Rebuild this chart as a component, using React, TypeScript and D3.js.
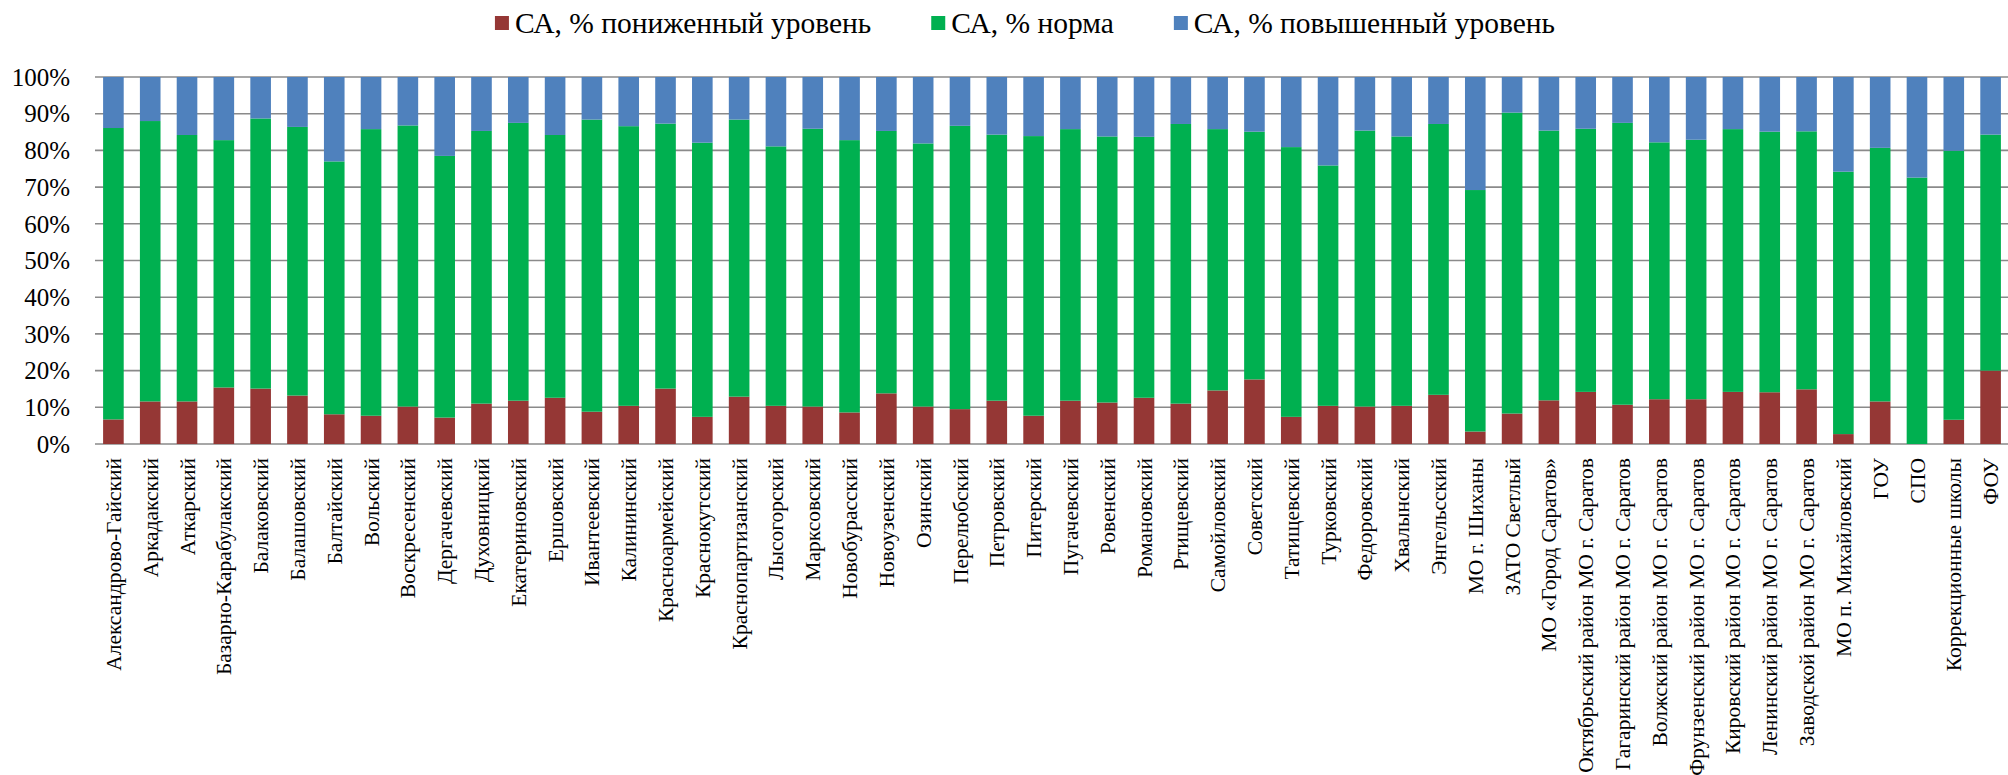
import * as d3 from 'd3';
import React, { useEffect, useRef } from 'react';

const categories = [
  'Александрово-Гайский', 'Аркадакский', 'Аткарский', 'Базарно-Карабулакский', 'Балаковский',
  'Балашовский', 'Балтайский', 'Вольский', 'Воскресенский', 'Дергачевский', 'Духовницкий',
  'Екатериновский', 'Ершовский', 'Ивантеевский', 'Калининский', 'Красноармейский', 'Краснокутский',
  'Краснопартизанский', 'Лысогорский', 'Марксовский', 'Новобурасский', 'Новоузенский', 'Озинский',
  'Перелюбский', 'Петровский', 'Питерский', 'Пугачевский', 'Ровенский', 'Романовский', 'Ртищевский',
  'Самойловский', 'Советский', 'Татищевский', 'Турковский', 'Федоровский', 'Хвалынский', 'Энгельсский',
  'МО г. Шиханы', 'ЗАТО Светлый', 'МО «Город Саратов»', 'Октябрьский район МО г. Саратов',
  'Гагаринский район МО г. Саратов', 'Волжский район МО г. Саратов', 'Фрунзенский район МО г. Саратов',
  'Кировский район МО г. Саратов', 'Ленинский район МО г. Саратов', 'Заводской район МО г. Саратов',
  'МО п. Михайловский', 'ГОУ', 'СПО', 'Коррекционные школы', 'ФОУ',
];

// CA, % reduced level
const lowLevel = [
  6.7, 11.6, 11.6, 15.4, 15.1, 13.2, 8.1, 7.7, 10.2, 7.2, 11.0, 11.8, 12.6, 8.8, 10.4, 15.1, 7.4,
  12.9, 10.4, 10.2, 8.6, 13.8, 10.2, 9.5, 11.8, 7.7, 11.8, 11.3, 12.6, 11.0, 14.6, 17.6, 7.4, 10.4,
  10.2, 10.4, 13.4, 3.4, 8.3, 11.9, 14.2, 10.7, 12.2, 12.2, 14.2, 14.1, 14.9, 2.7, 11.6, 0, 6.6, 20.0,
];

// CA, % norm
const normLevel = [
  79.4, 76.4, 72.6, 67.4, 73.6, 73.2, 68.9, 78.1, 76.6, 71.3, 74.3, 75.7, 71.6, 79.6, 76.2, 72.2, 74.7,
  75.5, 70.7, 75.7, 74.2, 71.5, 71.7, 77.2, 72.5, 76.2, 74.0, 72.5, 71.1, 76.2, 71.2, 67.5, 73.5, 65.5,
  75.2, 73.4, 73.8, 65.8, 82.0, 73.5, 71.7, 76.8, 70.0, 70.7, 71.6, 71.0, 70.3, 71.5, 69.1, 72.6, 73.3, 64.3,
];

// CA, % raised level
const highLevel = [
  13.9, 12.0, 15.8, 17.2, 11.3, 13.6, 23.0, 14.2, 13.2, 21.5, 14.7, 12.5, 15.8, 11.6, 13.4, 12.7, 17.9,
  11.6, 18.9, 14.1, 17.2, 14.7, 18.1, 13.3, 15.7, 16.1, 14.2, 16.2, 16.3, 12.8, 14.2, 14.9, 19.1, 24.1,
  14.6, 16.2, 12.8, 30.8, 9.7, 14.6, 14.1, 12.5, 17.8, 17.1, 14.2, 14.9, 14.8, 25.8, 19.3, 27.4, 20.1, 15.7,
];

const seriesKeys = ['low', 'norm', 'high'];
const seriesNames = ['СА, % пониженный уровень', 'СА, % норма', 'СА, % повышенный уровень'];
const seriesColors = ['#953735', '#00B050', '#4F81BD'];
const yTicks = [0, 10, 20, 30, 40, 50, 60, 70, 80, 90, 100];

const W = 2008;
const H = 775;

const App: React.FC = () => {
  const ref = useRef<SVGSVGElement>(null);

  useEffect(() => {
    const svg = d3.select(ref.current);
    svg.selectAll('*').remove();

    const rows = categories.map((name, i) => ({
      name,
      low: lowLevel[i],
      norm: normLevel[i],
      high: highLevel[i],
    }));
    const stacked = d3.stack<any>().keys(seriesKeys)(rows);

    const x = d3
      .scaleBand<string>()
      .domain(categories)
      .range([95, 2009])
      .paddingInner(0.44)
      .paddingOuter(0.22);
    const y = d3.scaleLinear().domain([0, 100]).range([444, 77]);

    // gridlines behind the bars
    svg
      .append('g')
      .selectAll('line')
      .data(yTicks)
      .join('line')
      .attr('x1', 95)
      .attr('x2', W)
      .attr('y1', d => y(d))
      .attr('y2', d => y(d))
      .attr('stroke', '#8a8a8a')
      .attr('stroke-width', 1.6);

    // stacked bars
    svg
      .append('g')
      .selectAll('g')
      .data(stacked)
      .join('g')
      .attr('fill', (_, i) => seriesColors[i])
      .selectAll('rect')
      .data(d => d)
      .join('rect')
      .attr('x', d => x(d.data.name)!)
      .attr('width', x.bandwidth())
      .attr('y', d => y(Math.min(100, d[1])))
      .attr('height', d => Math.max(0, y(d[0]) - y(Math.min(100, d[1]))));

    // y tick labels
    svg
      .append('g')
      .selectAll('text')
      .data(yTicks)
      .join('text')
      .attr('x', 70)
      .attr('y', d => y(d))
      .attr('dy', '0.35em')
      .attr('text-anchor', 'end')
      .attr('font-size', 25)
      .attr('fill', '#000')
      .text(d => `${d}%`);

    // x category labels, rotated
    svg
      .append('g')
      .selectAll('text')
      .data(categories)
      .join('text')
      .attr('transform', d => `translate(${x(d)! + x.bandwidth() / 2},458) rotate(-90)`)
      .attr('dy', '0.35em')
      .attr('text-anchor', 'end')
      .attr('font-size', 21.5)
      .attr('fill', '#000')
      .text(d => d);

    // legend
    const legend = svg.append('g');
    const items = legend
      .selectAll('g')
      .data(seriesNames)
      .join('g');
    items
      .append('rect')
      .attr('width', 14)
      .attr('height', 14)
      .attr('y', 16)
      .attr('fill', (_, i) => seriesColors[i]);
    items
      .append('text')
      .attr('x', 20)
      .attr('y', 33)
      .attr('font-size', 29.5)
      .attr('fill', '#000')
      .text(d => d);

    let offset = 0;
    const positions: number[] = [];
    items.each(function () {
      positions.push(offset);
      const t = (this as SVGGElement).querySelector('text') as SVGTextElement;
      offset += 20 + t.getComputedTextLength() + 60;
    });
    const total = offset - 60;
    const start = 1025 - total / 2;
    items.attr('transform', (_, i) => `translate(${start + positions[i]},0)`);
  }, []);

  return (
    <svg
      ref={ref}
      width={W}
      height={H}
      style={{
        position: 'absolute',
        left: 0,
        top: 0,
        background: '#fff',
        fontFamily: 'Liberation Serif',
      }}
    />
  );
};

export default App;
